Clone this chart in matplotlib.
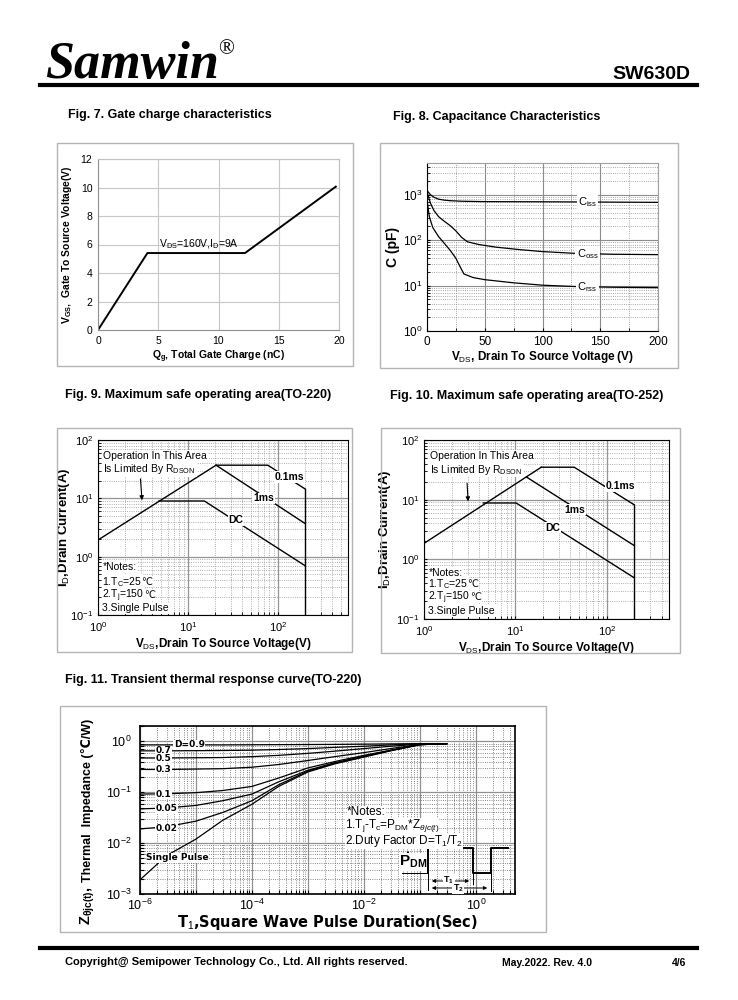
import numpy as np
import matplotlib
matplotlib.use("Agg")
import matplotlib.pyplot as plt
from matplotlib.patches import Rectangle, FancyArrowPatch
from matplotlib.lines import Line2D
from matplotlib.ticker import LogLocator, MultipleLocator, NullFormatter

plt.rcParams['font.family'] = ['Liberation Sans', 'DejaVu Sans']
plt.rcParams['mathtext.fontset'] = 'custom'
plt.rcParams['mathtext.rm'] = 'Liberation Sans'
plt.rcParams['mathtext.it'] = 'Liberation Sans:italic'
plt.rcParams['mathtext.bf'] = 'Liberation Sans:bold'
plt.rcParams['axes.linewidth'] = 0.8

# ---- data ----
# Fig. 7 gate charge
qg_nc = [0, 4.1, 12.2, 19.8]
vgs_v = [0, 5.4, 5.4, 10.1]

# Fig. 8 capacitance
ciss_vds = [0.5, 3, 6, 10, 15, 20, 30, 50, 100, 150, 200]
ciss_pf = [1200, 1000, 880, 800, 760, 740, 720, 705, 700, 690, 680]
coss_vds = [0.5, 3, 6, 10, 15, 20, 25, 30, 35, 45, 60, 80, 100, 130, 160, 200]
coss_pf = [1050, 650, 450, 330, 260, 210, 160, 115, 92, 80, 70, 62, 56, 51, 49, 48]
crss_vds = [0.5, 2, 5, 10, 15, 20, 25, 28, 32, 40, 50, 75, 100, 130, 160, 200]
crss_pf = [620, 330, 190, 120, 85, 60, 40, 28, 18, 15, 13.5, 11.5, 10.2, 9.5, 9.2, 9.0]

# Fig. 9 SOA TO-220
soa9_rds_x = [1, 20.5]
soa9_rds_y = [1.93, 37]
soa9_01ms_x = [20.5, 77, 200]
soa9_01ms_y = [37, 37, 14.5]
soa9_1ms_x = [20.5, 200]
soa9_1ms_y = [37, 3.7]
soa9_dc_x = [4.75, 15.2, 200]
soa9_dc_y = [9.0, 9.0, 0.70]
soa9_vmax_y = [14.5, 0.1]

# Fig. 10 SOA TO-252
soa10_rds_x = [1, 19.2]
soa10_rds_y = [1.85, 35]
soa10_01ms_x = [19.2, 44, 200]
soa10_01ms_y = [35, 35, 8.2]
soa10_1ms_x = [13.2, 200]
soa10_1ms_y = [24, 1.7]
soa10_dc_x = [4.46, 10.2, 200]
soa10_dc_y = [8.8, 8.8, 0.49]
soa10_vmax_y = [8.2, 0.1]
vds_max = 200

# Fig. 11 transient thermal
pulse_t = [1e-6, 3e-6, 1e-5, 3e-5, 1e-4, 3e-4, 1e-3, 3e-3, 1e-2, 3e-2, 1e-1, 3e-1]
z_single = [0.0019, 0.0057, 0.012, 0.028, 0.058, 0.13, 0.25, 0.36, 0.49, 0.65, 0.86, 0.9]
z_d002 = [0.019, 0.021, 0.027, 0.04, 0.068, 0.14, 0.26, 0.37, 0.5, 0.66, 0.86, 0.9]
z_d005 = [0.047, 0.049, 0.055, 0.068, 0.092, 0.16, 0.27, 0.38, 0.51, 0.66, 0.86, 0.9]
z_d01 = [0.092, 0.093, 0.098, 0.108, 0.13, 0.19, 0.3, 0.4, 0.53, 0.67, 0.86, 0.9]
z_d03 = [0.28, 0.28, 0.285, 0.29, 0.31, 0.35, 0.42, 0.5, 0.6, 0.72, 0.87, 0.9]
z_d05 = [0.47, 0.47, 0.475, 0.48, 0.5, 0.53, 0.58, 0.64, 0.72, 0.8, 0.88, 0.9]
z_d07 = [0.65, 0.65, 0.655, 0.66, 0.67, 0.69, 0.72, 0.76, 0.8, 0.85, 0.89, 0.9]
z_d09 = [0.85, 0.85, 0.85, 0.85, 0.855, 0.86, 0.865, 0.87, 0.88, 0.89, 0.9, 0.9]
duty_curves = [z_d09, z_d07, z_d05, z_d03, z_d01, z_d005, z_d002]
duty_labels = ['D=0.9', '0.7', '0.5', '0.3', '0.1', '0.05', '0.02']
t11_ticks = [1e-6, 1e-5, 1e-4, 1e-3, 1e-2, 1e-1, 1e0]
t11_labels = [r'$10^{-6}$', '', r'$10^{-4}$', '', r'$10^{-2}$', '', r'$10^{0}$']
z11_ticks = [1e-3, 1e-2, 1e-1, 1e0]
z11_labels = [r'$10^{-3}$', r'$10^{-2}$', r'$10^{-1}$', r'$10^{0}$']

W, H = 738, 1000
fig = plt.figure(figsize=(7.38, 10), dpi=100)


def axes_px(l, t, r, b):
    return fig.add_axes([l / W, 1 - b / H, (r - l) / W, (b - t) / H])


def box(l, t, r, b):
    fig.add_artist(Rectangle((l / W, 1 - b / H), (r - l) / W, (b - t) / H,
                             transform=fig.transFigure, fill=False,
                             ec='#b4b4b4', lw=1.0))


def ftext(x, y, s, **kw):
    kw.setdefault('va', 'center')
    kw.setdefault('ha', 'left')
    return fig.text(x / W, 1 - y / H, s, **kw)


def fline(xs, ys, **kw):
    kw.setdefault('color', 'black')
    kw.setdefault('lw', 1.0)
    fig.add_artist(Line2D([x / W for x in xs], [1 - y / H for y in ys],
                          transform=fig.transFigure, **kw))


def farrow(x0, y0, x1, y1):
    fig.add_artist(FancyArrowPatch((x0 / W, 1 - y0 / H), (x1 / W, 1 - y1 / H),
                                   transform=fig.transFigure, arrowstyle='<|-|>',
                                   mutation_scale=5, lw=0.7, color='black'))


# header / footer
ftext(45, 78, 'Samwin', family='Liberation Serif', weight='bold', style='italic',
      fontsize=37.5, va='baseline')
ftext(218, 50, '®', family='Liberation Serif', fontsize=15)
ftext(690, 79, 'SW630D', weight='bold', fontsize=14, ha='right', va='baseline')
fline([40, 697], [85, 85], lw=3)
fline([40, 697], [948, 948], lw=3)
ftext(65, 962, 'Copyright@ Semipower Technology Co., Ltd. All rights reserved.',
      weight='bold', fontsize=8)
ftext(502, 963, 'May.2022. Rev. 4.0', weight='bold', fontsize=7.5)
ftext(686, 963, '4/6', weight='bold', fontsize=7.5, ha='right')

# titles and frames
ftext(68, 115, 'Fig. 7. Gate charge characteristics', weight='bold', fontsize=9)
ftext(393, 117, 'Fig. 8. Capacitance Characteristics', weight='bold', fontsize=9)
ftext(65, 395, 'Fig. 9. Maximum safe operating area(TO-220)', weight='bold', fontsize=9)
ftext(390, 396, 'Fig. 10. Maximum safe operating area(TO-252)', weight='bold', fontsize=9)
ftext(65, 680, 'Fig. 11. Transient thermal response curve(TO-220)', weight='bold', fontsize=9)
box(57, 143, 353, 366)
box(380, 143, 678, 368)
box(57, 428, 352, 652)
box(381, 428, 680, 653)
box(60, 706, 546, 932)

# ---- Fig. 7 ----
ax7 = axes_px(98, 159, 339, 330)
ax7.plot(qg_nc, vgs_v, color='black', lw=1.4, solid_capstyle='butt')
ax7.set_xlim(0, 20)
ax7.set_ylim(0, 12)
ax7.set_xticks(range(0, 21, 5))
ax7.set_yticks(range(0, 13, 2))
ax7.grid(color='#c8c8c8', lw=0.8)
for sp in ax7.spines.values():
    sp.set_color('#c0c0c0')
ax7.spines['left'].set_color('#909090')
ax7.spines['bottom'].set_color('#909090')
ax7.tick_params(length=0, labelsize=7.5, pad=4)
ax7.set_xlabel(r'$\mathbf{Q_g}$, Total Gate Charge (nC)', weight='bold', fontsize=7.5, labelpad=2)
ax7.set_ylabel(r'$\mathbf{V_{GS}}$,  Gate To Source Voltage(V)', weight='bold', fontsize=7.5, labelpad=5)
ax7.text(5.1, 5.55, r'V$_{\rm DS}$=160V,I$_{\rm D}$=9A', fontsize=7.5, va='bottom')

# ---- Fig. 8 ----
ax8 = axes_px(427, 163, 658, 331)
ax8.semilogy(ciss_vds, ciss_pf, color='black', lw=0.9)
ax8.semilogy(coss_vds, coss_pf, color='black', lw=0.9)
ax8.semilogy(crss_vds, crss_pf, color='black', lw=0.9)
ax8.set_xlim(0, 200)
ax8.set_ylim(1, 5000)
ax8.set_xticks([0, 50, 100, 150, 200])
ax8.xaxis.set_minor_locator(MultipleLocator(25))
ax8.yaxis.set_major_locator(LogLocator(base=10))
ax8.yaxis.set_minor_locator(LogLocator(base=10, subs=np.arange(2, 10)))
ax8.yaxis.set_minor_formatter(NullFormatter())
ax8.grid(which='major', color='#8c8c8c', lw=0.8)
ax8.grid(which='minor', color='#8c8c8c', lw=0.6, ls=':')
ax8.tick_params(which='both', direction='in', labelsize=8.5, length=2)
for sp in ['top', 'right']:
    ax8.spines[sp].set_color('#a0a0a0')
ax8.set_ylabel('C (pF)', weight='bold', fontsize=10, labelpad=2)
ax8.set_xlabel(r'V$_{\rm DS}$, Drain To Source Voltage (V)', weight='bold', fontsize=8.5, labelpad=1)
cap_box = dict(fc='white', ec='none', pad=0.8)
ax8.text(139, ciss_pf[-2], r'C$_{\rm iss}$', fontsize=8, ha='center', va='center', bbox=cap_box)
ax8.text(139, 49, r'C$_{\rm oss}$', fontsize=8, ha='center', va='center', bbox=cap_box)
ax8.text(139, 9.3, r'C$_{\rm rss}$', fontsize=8, ha='center', va='center', bbox=cap_box)


# ---- Fig. 9 / 10 ----
def soa(ax, rds_x, rds_y, a_x, a_y, b_x, b_y, dc_x, dc_y, vmax_y, xmax, labpos, arrow, note_y, ylab_x):
    for xs, ys in [(rds_x, rds_y), (a_x, a_y), (b_x, b_y), (dc_x, dc_y), ([vds_max, vds_max], vmax_y)]:
        ax.loglog(xs, ys, color='black', lw=1.0)
    ax.set_xlim(1, xmax)
    ax.set_ylim(0.1, 100)
    ax.xaxis.set_major_locator(LogLocator(base=10))
    ax.xaxis.set_minor_locator(LogLocator(base=10, subs=np.arange(2, 10)))
    ax.xaxis.set_minor_formatter(NullFormatter())
    ax.yaxis.set_minor_locator(LogLocator(base=10, subs=np.arange(2, 10)))
    ax.yaxis.set_minor_formatter(NullFormatter())
    ax.grid(which='major', color='#959595', lw=0.9)
    ax.grid(which='minor', color='#959595', lw=0.6, ls=':')
    ax.tick_params(which='both', direction='in', labelsize=8, length=2)
    ax.set_ylabel(r'I$_{\rm D}$,Drain Current(A)', weight='bold', fontsize=9.5)
    ax.yaxis.set_label_coords(ylab_x, 0.5)
    ax.set_xlabel(r'V$_{\rm DS}$,Drain To Source Voltage(V)', weight='bold', fontsize=8.5, labelpad=2)
    wb = dict(fc='white', ec='none', pad=0.6)
    ax.text(1.15, 54, 'Operation In This Area', fontsize=7.5, va='center', bbox=wb)
    ax.text(1.15, 32, r'Is Limited By R$_{\rm DSON}$', fontsize=7.5, va='center', bbox=wb)
    ax.annotate('', xy=arrow[1], xytext=arrow[0],
                arrowprops=dict(arrowstyle='-|>', color='black', lw=0.8, mutation_scale=6))
    for (x, y), s in zip(labpos, ['0.1ms', '1ms', 'DC']):
        ax.text(x, y, s, fontsize=7.5, weight='bold', ha='center', va='center', bbox=wb)
    notes = ['*Notes:', r'1.T$_{\rm C}$=25', r'2.T$_{\rm j}$=150', '3.Single Pulse']
    for i, (y, s) in enumerate(zip(note_y, notes)):
        t = ax.text(1.12, y, s, fontsize=7.5, va='baseline', bbox=wb)
        if i in (1, 2):
            ax.annotate('\u2103', xy=(1, y), xycoords=(t, 'data'), xytext=(-0.5, 0),
                        textcoords='offset points', fontsize=7, va='baseline',
                        bbox=dict(fc='white', ec='none', pad=0.3))


ax9 = axes_px(98, 440, 348, 615)
soa(ax9, soa9_rds_x, soa9_rds_y, soa9_01ms_x, soa9_01ms_y, soa9_1ms_x, soa9_1ms_y,
    soa9_dc_x, soa9_dc_y, soa9_vmax_y, 600,
    [(135, 23), (69, 10), (34, 4.2)], [(2.95, 24), (3.1, 8.3)], [0.58, 0.33, 0.195, 0.115], -0.104)
ax10 = axes_px(424, 440, 669, 619)
soa(ax10, soa10_rds_x, soa10_rds_y, soa10_01ms_x, soa10_01ms_y, soa10_1ms_x, soa10_1ms_y,
    soa10_dc_x, soa10_dc_y, soa10_vmax_y, 480,
    [(140, 16.7), (45, 6.8), (25.8, 3.4)], [(2.95, 21), (3.05, 8.4)], [0.52, 0.345, 0.21, 0.122], -0.125)

# ---- Fig. 11 ----
ax11 = axes_px(140, 726, 515, 894)
ax11.loglog(pulse_t, z_single, color='black', lw=0.9)
for z in duty_curves:
    ax11.loglog(pulse_t, z, color='black', lw=0.9)
ax11.set_xlim(1e-6, 5)
ax11.set_ylim(1e-3, 2)
ax11.set_xticks(t11_ticks)
ax11.set_xticklabels(t11_labels)
ax11.set_yticks(z11_ticks)
ax11.set_yticklabels(z11_labels)
ax11.xaxis.set_minor_locator(LogLocator(base=10, subs=np.arange(2, 10)))
ax11.xaxis.set_minor_formatter(NullFormatter())
ax11.yaxis.set_minor_locator(LogLocator(base=10, subs=np.arange(2, 10)))
ax11.yaxis.set_minor_formatter(NullFormatter())
ax11.grid(which='major', color='#909090', lw=0.9)
ax11.grid(which='minor', color='#606060', lw=0.6, ls=':')
ax11.tick_params(which='both', direction='in', length=3, width=0.8)
ax11.tick_params(axis='x', pad=3)
ax11.tick_params(axis='y', pad=6)
for lab in ax11.get_xticklabels() + ax11.get_yticklabels():
    lab.set_family('DejaVu Sans')
    lab.set_fontsize(9)
for sp in ax11.spines.values():
    sp.set_linewidth(1.2)
ax11.set_xlabel(r'T$_1$,Square Wave Pulse Duration(Sec)', family='DejaVu Sans',
                weight='bold', fontsize=10.5, labelpad=-0.5)
lb = dict(fc='white', ec='none', pad=0.3)
ax11.text(4e-6, z_d09[0], duty_labels[0], family='DejaVu Sans', weight='bold',
          fontsize=6.5, va='center', bbox=lb)
for z, s in zip(duty_curves[1:], duty_labels[1:]):
    ax11.text(1.9e-6, z[0], s, family='DejaVu Sans', weight='bold', fontsize=6.5,
              va='center', bbox=lb)
ax11.text(1.3e-6, 0.0052, 'Single Pulse', family='DejaVu Sans', weight='bold',
          fontsize=6.5, va='center', bbox=lb)

ftext(88, 800, 'Thermal  Impedance (\u2103/W)', rotation=90, ha='center',
      weight='bold', fontsize=9)
ftext(88, 906, r'$\mathbf{Z_{\theta jc(t)}}$,', rotation=90, ha='center',
      weight='bold', fontsize=10.5)

nb = dict(fc='white', ec='none', pad=0.0)
ftext(347, 812, '*Notes:', fontsize=8.5, bbox=nb)
ftext(345, 826, r'1.T$_{\rm j}$-T$_{\rm c}$=P$_{\rm DM}$*Z$_{\theta jc(t)}$', fontsize=8.5, bbox=nb)
ftext(345, 841, r'2.Duty Factor D=T$_1$/T$_2$', fontsize=8.5, bbox=nb)

# pulse sketch
fline([428, 428, 473, 473, 491, 491, 508], [873, 848, 848, 873, 873, 848, 848], lw=1.4)
fline([428, 428], [873, 890], lw=0.7)
fline([473, 473], [873, 884], lw=0.7)
fline([491, 491], [873, 891], lw=0.7)
fline([402, 428], [873, 873], lw=0.7)
farrow(408, 848, 408, 873)
farrow(429, 881, 472, 881)
farrow(429, 888, 490, 888)
ftext(413, 862, r'$\mathbf{P}_{\mathbf{DM}}$', fontsize=11, ha='center',
      bbox=dict(fc='white', ec='none', pad=0.2))
ftext(449, 880, r'$\mathbf{T_1}$', fontsize=6.5, ha='center', bbox=dict(fc='white', ec='none', pad=0.2))
ftext(458, 888, r'$\mathbf{T_2}$', fontsize=6.5, ha='center', bbox=dict(fc='white', ec='none', pad=0.2))

fig.savefig('out.png', dpi=100)
